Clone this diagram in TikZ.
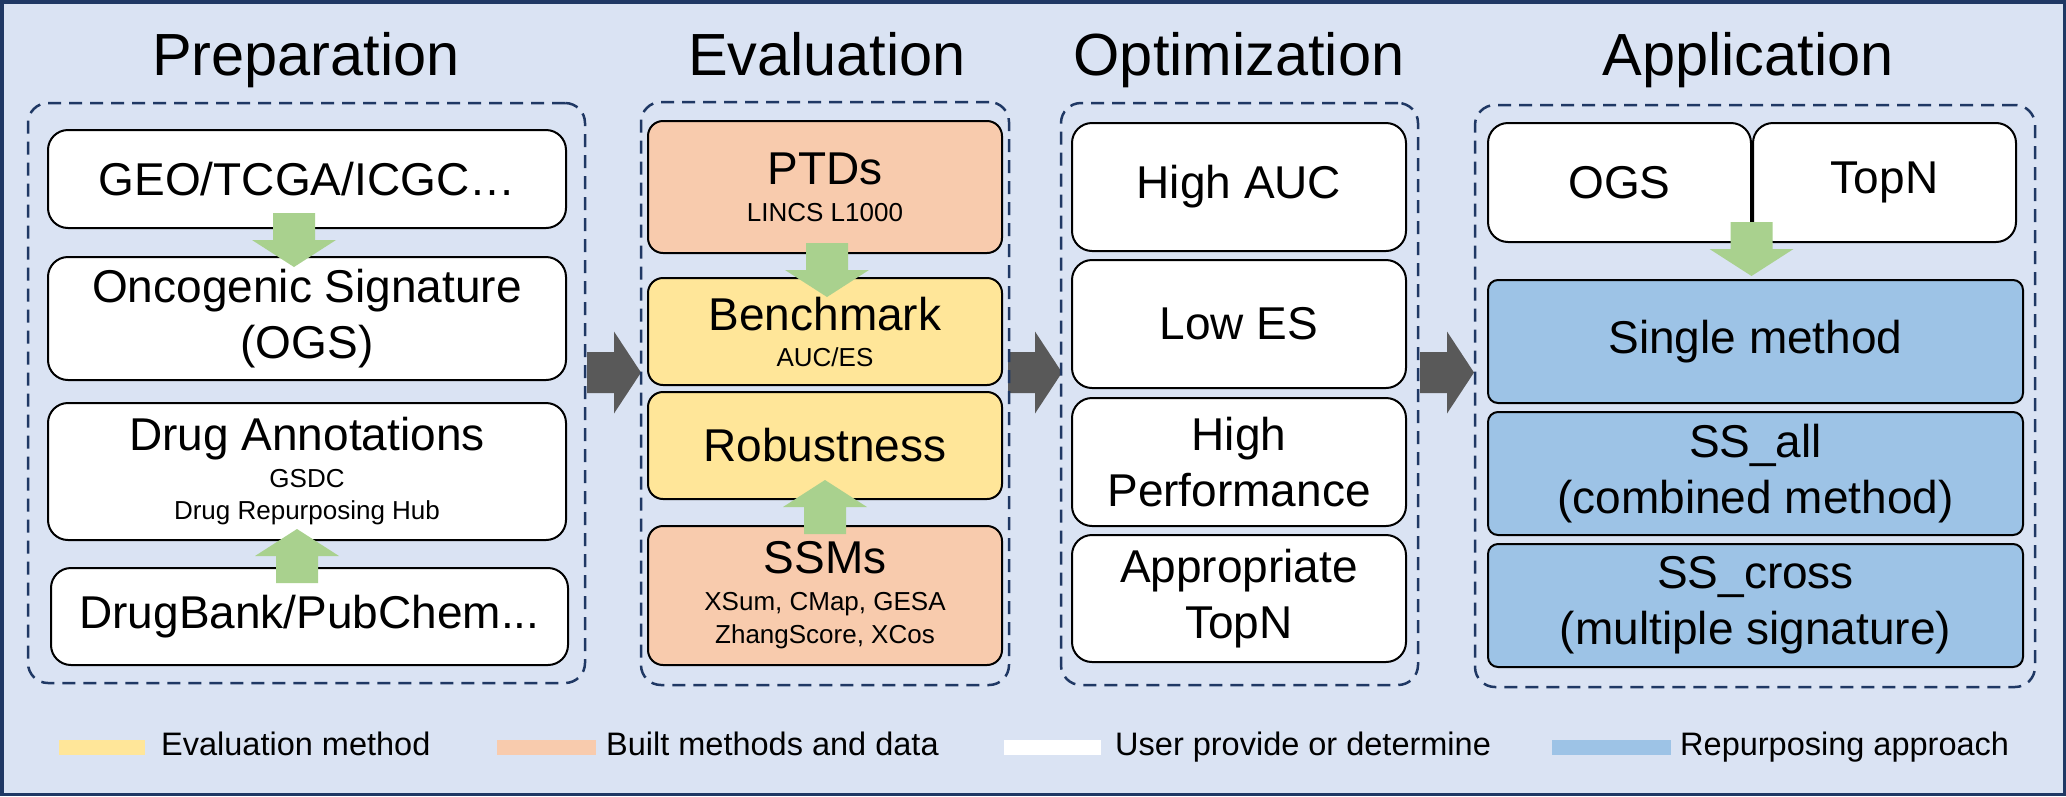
\documentclass[tikz,border=0pt]{standalone}
\usepackage{fontspec}
\setmainfont{Liberation Sans}
\usetikzlibrary{calc}

\definecolor{bg}{HTML}{DAE3F3}
\definecolor{navy}{HTML}{1F3864}
\definecolor{peach}{HTML}{F8CBAD}
\definecolor{sand}{HTML}{FFE699}
\definecolor{sky}{HTML}{9DC3E6}
\definecolor{leaf}{HTML}{A9D18E}
\definecolor{slate}{HTML}{595959}

\newcommand\titlefont{\fontsize{59.5}{70}\selectfont}
\newcommand\bigtxt{\fontsize{46}{56}\selectfont}
\newcommand\smalltxt{\fontsize{26}{33}\selectfont}
\newcommand\keytxt{\fontsize{32.5}{40}\selectfont}

\tikzset{
  group/.style={draw=navy, line width=2.5pt, dash pattern=on 13pt off 8pt,
    rounded corners=20pt, inner sep=0pt},
  card/.style={draw=black, line width=2pt, fill=white, rounded corners=20pt,
    inner sep=0pt, align=center, font=\bigtxt},
  evalcard/.style={card, rounded corners=15pt, fill=sand},
  datacard/.style={card, rounded corners=15pt, fill=peach, font=\smalltxt},
  appcard/.style={card, rounded corners=10pt, fill=sky},
  heading/.style={font=\titlefont, anchor=base},
  keybox/.style={inner sep=0pt, minimum width=#1, minimum height=15pt, anchor=north west},
  keylabel/.style={font=\keytxt, anchor=base west, inner sep=0pt},
  pics/downblock/.style={code={\fill[leaf] (-21,-27) -- (21,-27) -- (21,0) -- (42,0)
      -- (0,27) -- (-42,0) -- (-21,0) -- cycle;}},
  pics/upblock/.style={code={\fill[leaf] (-21,27) -- (21,27) -- (21,0) -- (42,0)
      -- (0,-27) -- (-42,0) -- (-21,0) -- cycle;}},
  pics/rightblock/.style={code={\fill[slate] (0,-20.5) -- (27,-20.5) -- (27,-41)
      -- (54,0) -- (27,41) -- (27,20.5) -- (0,20.5) -- cycle;}},
}

\begin{document}
\begin{tikzpicture}[x=1pt, y=-1pt]
  \useasboundingbox (0,0) rectangle (2066,796);
  % frame
  \draw[fill=bg, draw=navy, line width=3.5pt] (1.75,1.75) rectangle (2064.25,794.25);

  % stage headings
  \node[heading] (hprep) at (306,75) {Preparation};
  \node[heading] (heval) at (827,75) {Evaluation};
  \node[heading] (hopt)  at (1239,75) {Optimization};
  \node[heading] (happ)  at (1748,75) {Application};

  % arrows between stages
  \coordinate (s1) at (587,372.5);
  \coordinate (s2) at (1008,372.5);
  \coordinate (s3) at (1420,372.5);
  \pic at (s1) {rightblock};
  \pic at (s2) {rightblock};
  \pic at (s3) {rightblock};

  % dashed stage groups
  \node[group, minimum width=557pt, minimum height=580pt] (prep) at (306.5,393) {};
  \node[group, minimum width=368pt, minimum height=583pt] (evalg) at (825,393.5) {};
  \node[group, minimum width=357pt, minimum height=582pt] (optg) at (1239.5,394) {};
  \node[group, minimum width=560pt, minimum height=582pt] (appg) at (1755,396) {};

  % preparation
  \node[card, minimum width=518pt, minimum height=98pt]  (geo)   at (307,179) {GEO/TCGA/ICGC…};
  \node[card, minimum width=518pt, minimum height=123pt] (ogsig) at (307,318.5) {Oncogenic Signature\\(OGS)};
  \node[card, minimum width=518pt, minimum height=137pt, font=\smalltxt] (annot) at (307,471.5)
       {{\bigtxt Drug Annotations}\\[4pt]GSDC\\[-1pt]Drug Repurposing Hub};
  \node[card, minimum width=517pt, minimum height=97pt]  (bank)  at (309.5,616.5) {DrugBank/PubChem...};

  % evaluation
  \node[datacard, minimum width=354pt, minimum height=132pt] (ptd) at (825,187)
       {{\bigtxt PTDs}\\[4pt]LINCS L1000};
  \node[evalcard, minimum width=354pt, minimum height=107pt, font=\smalltxt] (bench) at (825,331.5)
       {{\bigtxt Benchmark}\\[3pt]AUC/ES};
  \node[evalcard, minimum width=354pt, minimum height=107pt] (robust) at (825,445.5) {Robustness};
  \node[datacard, minimum width=354pt, minimum height=139pt] (ssm) at (825,595.5)
       {{\bigtxt SSMs}\\[4pt]XSum, CMap, GESA\\ZhangScore, XCos};

  % optimization
  \node[card, minimum width=334pt, minimum height=128pt] (hauc)  at (1239,187) {High AUC};
  \node[card, minimum width=334pt, minimum height=128pt] (lowes) at (1239,324) {Low ES};
  \node[card, minimum width=334pt, minimum height=128pt] (hperf) at (1239,462) {High\\Performance};
  \node[card, minimum width=334pt, minimum height=127pt] (atopn) at (1239,598.5) {Appropriate\\TopN};

  % application
  \node[card, minimum width=263pt, minimum height=119pt] (ogs)  at (1619.5,182.5) {OGS};
  \node[card, minimum width=263pt, minimum height=119pt] (topn) at (1884.5,182.5) {TopN};
  \node[appcard, minimum width=535pt, minimum height=123pt] (single)  at (1755.5,341.5) {Single method};
  \node[appcard, minimum width=535pt, minimum height=123pt] (ssall)   at (1755.5,473.5) {SS\_all\\(combined method)};
  \node[appcard, minimum width=535pt, minimum height=123pt] (sscross) at (1755.5,605.5) {SS\_cross\\(multiple signature)};

  % flow arrows inside the stages
  \pic at ($(geo.south)!0.5!(ogsig.north)+(-13,-2.5)$) {downblock};
  \pic at ($(bank.north)!0.5!(annot.south)+(-11.25,2)$) {upblock};
  \pic at ($(ptd.south)!0.5!(bench.north)+(2,4.5)$) {downblock};
  \pic at ($(ssm.north)!0.5!(robust.south)+(0,-5.5)$) {upblock};
  \pic at ($(ogs.south east)!0.5!(topn.south west)+(-0.5,6)$) {downblock};

  % legend
  \node[keybox=86pt, fill=sand]   (k1) at (59,740) {};
  \node[keylabel] (l1) at (161,755) {Evaluation method};
  \node[keybox=99pt, fill=peach]  (k2) at (497,740) {};
  \node[keylabel] (l2) at (606,755) {Built methods and data};
  \node[keybox=97pt, fill=white]  (k3) at (1004,740) {};
  \node[keylabel] (l3) at (1115,755) {User provide or determine};
  \node[keybox=119pt, fill=sky]   (k4) at (1552,740) {};
  \node[keylabel] (l4) at (1680,755) {Repurposing approach};
\end{tikzpicture}
\end{document}
